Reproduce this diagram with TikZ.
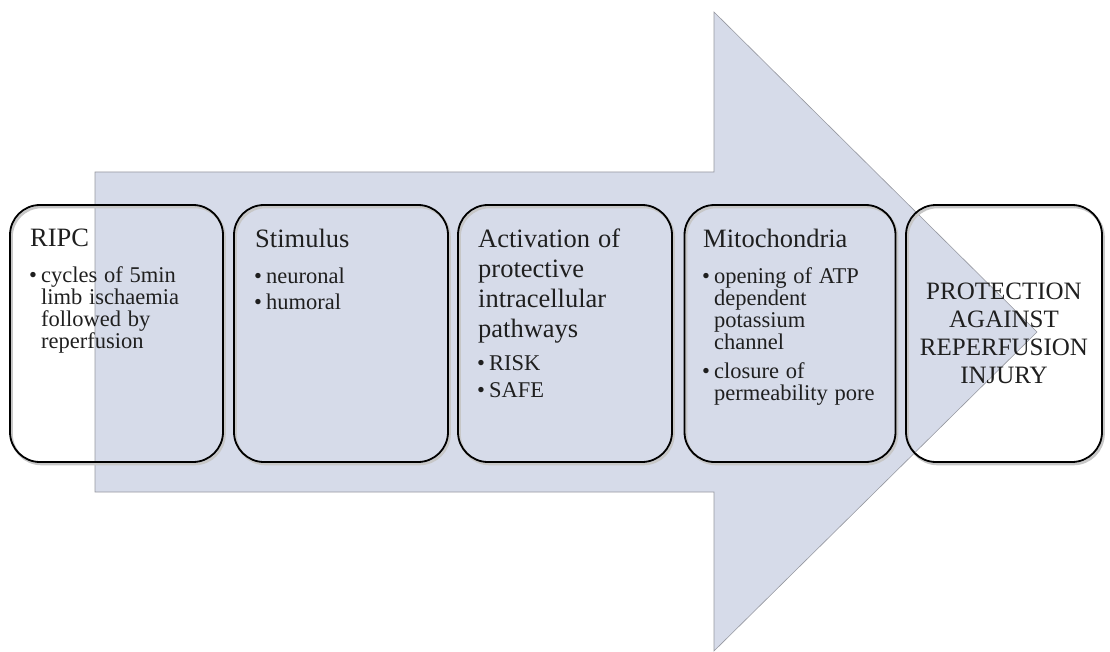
\documentclass[tikz,border=0pt]{standalone}
\usepackage{fontspec}
\setmainfont{Liberation Serif}
\definecolor{arrowfill}{RGB}{214,219,233}
\definecolor{arrowedge}{RGB}{150,152,160}
\newcommand{\ttlfont}{\fontsize{26.5}{30}\selectfont\spaceskip=0.3em plus 0.1em}
\newcommand{\bulfont}{\fontsize{22.5}{22}\selectfont\spaceskip=0.3em plus 0.1em}
\newcommand{\bitem}[2]{\par\vspace{#1}\bulfont\hangindent=11pt\hangafter=1\noindent\makebox[11pt][l]{\hspace{-1pt}\textbullet}#2\par}
\tikzset{
  stage/.style={draw=black, line width=1.8pt, rounded corners=30pt, minimum height=257pt, inner sep=0pt,
    preaction={draw=black!22, line width=2.6pt, transform canvas={shift={(1.5pt,-2pt)}}}},
  stagetext/.style={anchor=north west, inner sep=0pt, text width=185pt, align=left, text=black!88},
  endtext/.style={inner sep=0pt, align=center, font=\fontsize{25}{28}\selectfont, text=black!88}
}
\begin{document}
\begin{tikzpicture}[x=1pt,y=-1pt]
\useasboundingbox (0,0) rectangle (1110,652);
% big arrow
\path[fill=arrowfill, draw=arrowedge, line width=0.6pt]
  (95,172) -- (714,172) -- (714,12) -- (1037,332) -- (714,651) -- (714,492) -- (95,492) -- cycle;
% stage boxes
\node[stage, minimum width=213pt] (b1) at (116.5,333.5) {};
\node[stage, minimum width=214pt] (b2) at (341,333.5) {};
\node[stage, minimum width=214pt] (b3) at (565,333.5) {};
\node[stage, minimum width=211pt] (b4) at (790,333.5) {};
\node[stage, minimum width=196pt] (b5) at (1004,333.5) {};
% texts
\node[stagetext] (t1) at (30,229) {\ttlfont RIPC\bitem{14pt}{cycles of 5min\newline limb ischaemia\newline followed by\newline reperfusion}};
\node[stagetext] (t2) at (255,229) {\ttlfont Stimulus\bitem{14pt}{neuronal}\bitem{4pt}{humoral}};
\node[stagetext] (t3) at (478,229) {\ttlfont Activation of\\protective\\intracellular\\pathways\bitem{11pt}{RISK}\bitem{5pt}{SAFE}};
\node[stagetext] (t4) at (703,229) {\ttlfont Mitochondria\bitem{14pt}{opening of ATP\newline dependent\newline potassium\newline channel}\bitem{7pt}{closure of\newline permeability pore}};
\node[endtext] (t5) at (b5.center) {PROTECTION\\AGAINST\\REPERFUSION\\INJURY};
\end{tikzpicture}
\end{document}
